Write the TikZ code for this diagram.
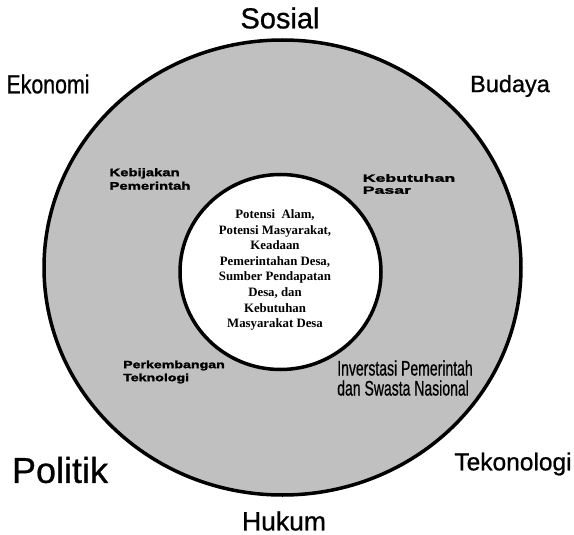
\documentclass[tikz,border=0pt]{standalone}
\usepackage{fontspec}
\setmainfont{Liberation Serif}
\setsansfont{Liberation Sans}
\newfontfamily\aspekfont[FakeBold=0.8]{Liberation Sans}
\newfontfamily\widefont[FakeStretch=1.35,FakeBold=2]{Liberation Sans Bold}
\usetikzlibrary{shapes.geometric}
\definecolor{ringgray}{RGB}{192,192,192}

\begin{document}
\begin{tikzpicture}[x=1pt,y=-1pt,
    ring/.style={ellipse,draw=black,line width=3.5pt,inner sep=0pt},
    aspek/.style={font=\aspekfont\fontsize{25}{27}\selectfont,inner sep=0pt},
    faktor/.style={font=\widefont\fontsize{11}{13.5}\selectfont,align=left,inner sep=0pt},
    inti/.style={font=\bfseries\fontsize{12.8}{15.6}\selectfont,align=center,inner sep=0pt}]
          \useasboundingbox (0,0) rectangle (574,535);
          \node[ring,fill=ringgray,minimum width=477pt,minimum height=455pt] (luar) at (282.5,267.5) {};
          \node[ring,fill=white,minimum width=201pt,minimum height=195pt] (dalam) at (280.5,272) {};
          % aspek luar
          \node[aspek,font=\aspekfont\fontsize{29}{31}\selectfont] (sosial) at (280,18) {Sosial};
          \node[aspek,font=\aspekfont\fontsize{26}{28}\selectfont,xscale=0.82,transform shape] (ekonomi) at (48,84) {Ekonomi};
          \node[aspek,font=\aspekfont\fontsize{23.5}{25}\selectfont] (budaya) at (510,86) {Budaya};
          \node[aspek,font=\aspekfont\fontsize{36}{38}\selectfont] (politik) at (60,470) {Politik};
          \node[aspek,font=\aspekfont\fontsize{24.5}{26}\selectfont] (tekonologi) at (513,464) {Tekonologi};
          \node[aspek,font=\aspekfont\fontsize{26.5}{28}\selectfont] (hukum) at (284,521) {Hukum};
          % faktor di dalam cincin
          \node[faktor] (kebijakan) at (150,179) {Kebijakan\\Pemerintah};
          \node[faktor,font=\widefont\fontsize{10.5}{12}\selectfont,xscale=1.25,transform shape] (pasar) at (409,184) {Kebutuhan\\Pasar};
          \node[faktor,font=\widefont\fontsize{10.5}{13}\selectfont] (teknologi) at (174,372) {Perkembangan\\Teknologi};
          \node[faktor,font=\aspekfont\fontsize{21}{20}\selectfont,xscale=0.667,transform shape] (investasi) at (405,378) {Inverstasi Pemerintah\\dan Swasta Nasional};
          % inti
          \node[inti] (potensi) at (275,270) {Potensi~ Alam,\\Potensi Masyarakat,\\Keadaan\\Pemerintahan Desa,\\Sumber Pendapatan\\Desa, dan\\Kebutuhan\\Masyarakat Desa};
        \end{tikzpicture}
\end{document}
